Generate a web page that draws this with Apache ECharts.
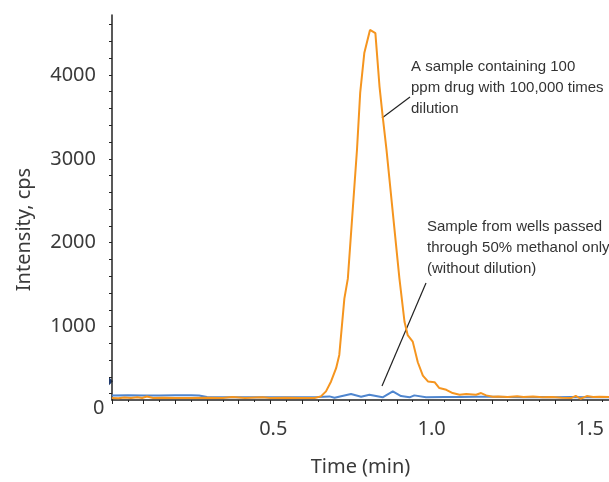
<!DOCTYPE html>
<html>
<head>
<meta charset="utf-8">
<script src="https://cdn.jsdelivr.net/npm/echarts@6/dist/echarts.min.js"></script>
<style>html,body{margin:0;padding:0;background:#fff}#c{width:609px;height:482px}</style>
</head>
<body>
<div id="c"></div>
<script>
// Orange trace: 100 ppm drug, 100,000x dilution
const timeOrange = [0.000,0.020,0.040,0.060,0.080,0.095,0.110,0.130,0.160,0.200,0.250,0.300,0.350,0.380,0.420,0.475,0.500,0.550,0.600,0.640,0.660,0.676,0.692,0.708,0.718,0.734,0.745,0.774,0.784,0.797,0.815,0.832,0.845,0.855,0.867,0.908,0.924,0.934,0.950,0.966,0.982,0.998,1.019,1.034,1.056,1.076,1.098,1.119,1.150,1.166,1.182,1.203,1.220,1.250,1.280,1.300,1.330,1.360,1.390,1.420,1.450,1.465,1.480,1.500,1.520,1.540,1.570];
const intensityOrange = [150,145,156,150,158,148,166,150,153,150,148,151,148,160,150,158,149,151,150,150,168,228,346,504,662,1334,1572,3114,3786,4261,4537,4498,3865,3509,3114,1572,1058,899,821,575,415,346,338,267,247,208,187,196,187,208,180,164,166,160,170,162,168,158,160,152,148,175,140,172,160,165,160];
// Blue trace: wells passed through 50% methanol only
const timeBlue = [0.000,0.050,0.100,0.150,0.200,0.250,0.275,0.300,0.350,0.400,0.450,0.500,0.550,0.600,0.650,0.687,0.703,0.755,0.787,0.813,0.855,0.887,0.913,0.940,0.955,0.992,1.050,1.100,1.150,1.200,1.250,1.300,1.350,1.400,1.450,1.500,1.570];
const intensityBlue = [178,182,180,179,183,182,178,160,157,159,157,159,157,158,160,168,152,196,164,187,157,228,172,157,180,157,160,162,165,163,160,158,160,158,160,157,158];
// Tick labels
const yTickLabels = [1000,2000,3000,4000];
const yMinorTicks = [200,400,600,800,1000,1200,1400,1600,1800,2000,2200,2400,2600,2800,3000,3200,3400,3600,3800,4000,4200,4400,4600];
const xTickLabels = [0.5,1.0,1.5];
const zeroLabel = '0';
const annotation1 = 'A sample containing 100\nppm drug with 100,000 times\ndilution';
const annotation2 = 'Sample from wells passed\nthrough 50% methanol only\n(without dilution)';

const zip = (xs, ys) => xs.map((x, i) => [x, ys[i]]);
const chart = echarts.init(document.getElementById('c'), null, {renderer: 'canvas'});
const txt = '#3a3a3a';
const font = 'Noto Sans';
chart.setOption({
  animation: false,
  grid: {left: 112, right: 0, top: 15, bottom: 80, containLabel: false},
  xAxis: {
    type: 'value', min: 0, max: 1.57, interval: 0.1,
    name: 'Time (min)', nameLocation: 'middle', nameGap: 57,
    nameTextStyle: {color: txt, fontSize: 20, fontFamily: font},
    axisLine: {lineStyle: {color: '#222', width: 1.5}},
    axisTick: {show: true, length: 4, lineStyle: {color: '#222', width: 1}},
    minorTick: {show: true, splitNumber: 2, length: 2, lineStyle: {color: '#222', width: 1}},
    axisLabel: {customValues: xTickLabels, formatter: v => v.toFixed(1), color: txt, fontSize: 20, fontFamily: font, margin: 19, padding: [0, 0, 0, 6]},
    splitLine: {show: false}
  },
  yAxis: {
    type: 'value', min: 125, max: 4715,
    name: 'Intensity, cps', nameLocation: 'middle', nameGap: 78, nameRotate: 90,
    nameTextStyle: {color: txt, fontSize: 20, fontFamily: font, padding: [0, 44, 0, 0]},
    axisLine: {show: true, lineStyle: {color: '#222', width: 1.5}},
    axisTick: {show: true, customValues: yMinorTicks, length: 3, lineStyle: {color: '#222', width: 1}},
    axisLabel: {customValues: yTickLabels, formatter: v => String(v), color: txt, fontSize: 20, fontFamily: font, margin: 16},
    splitLine: {show: false}
  },
  series: [
    {type: 'line', data: zip(timeBlue, intensityBlue), showSymbol: false, lineStyle: {color: '#4F86CF', width: 2}, itemStyle: {color: '#4F86CF'}},
    {type: 'line', data: zip(timeOrange, intensityOrange), showSymbol: false, lineStyle: {color: '#F5951F', width: 2}, itemStyle: {color: '#F5951F'}}
  ]
});
const z = chart.convertToPixel({yAxisIndex: 0}, 0);
const m = chart.convertToPixel({yAxisIndex: 0}, 350);
chart.setOption({
  graphic: [
    {type: 'text', left: 93, top: z - 12, style: {text: zeroLabel, fill: txt, fontSize: 20, fontFamily: font}},
    {type: 'polygon', shape: {points: [[109, m - 4], [113, m], [109, m + 4]]}, style: {fill: '#1f3a6e'}},
    {type: 'text', left: 411, top: 56, style: {text: annotation1, fill: '#333', fontSize: 15, lineHeight: 21, fontFamily: 'Liberation Sans'}},
    {type: 'text', left: 427, top: 216, style: {text: annotation2, fill: '#333', fontSize: 15, lineHeight: 21, fontFamily: 'Liberation Sans'}},
    {type: 'line', shape: {x1: 410, y1: 97, x2: 382, y2: 118}, style: {stroke: '#222', lineWidth: 1.2}},
    {type: 'line', shape: {x1: 426, y1: 283, x2: 382, y2: 386}, style: {stroke: '#222', lineWidth: 1.2}}
  ]
});
</script>
</body>
</html>
